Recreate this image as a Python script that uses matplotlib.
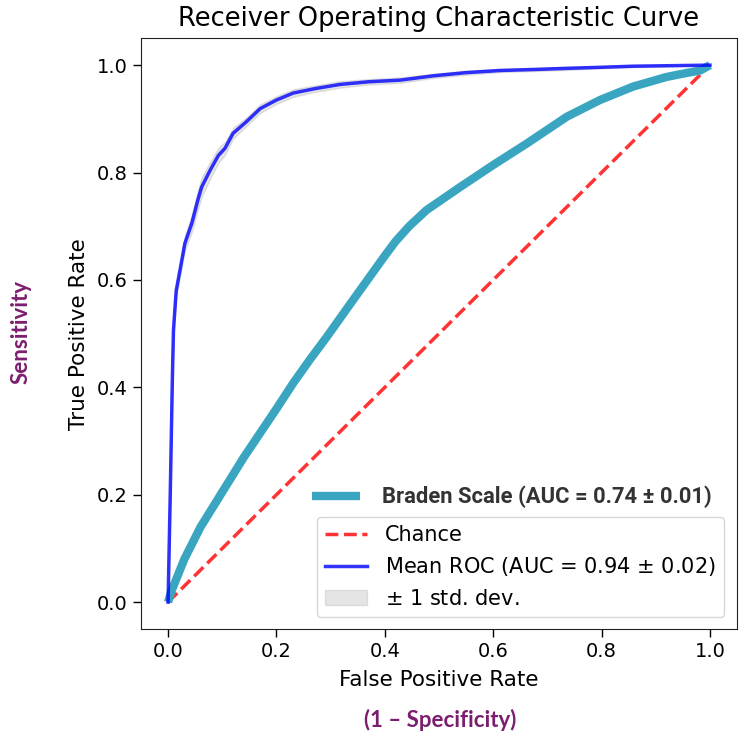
import numpy as np
import matplotlib.pyplot as plt
from matplotlib.lines import Line2D

# Mean ROC curve (cross-validated model)
mean_fpr = [0.0, 0.004, 0.008, 0.010, 0.015, 0.022, 0.031, 0.044, 0.055, 0.062, 0.078,
            0.093, 0.105, 0.120, 0.145, 0.170, 0.200, 0.231, 0.270, 0.317, 0.370,
            0.428, 0.489, 0.550, 0.613, 0.680, 0.736, 0.800, 0.858, 0.930, 1.0]
mean_tpr = [0.0, 0.20, 0.42, 0.507, 0.58, 0.618, 0.668, 0.706, 0.749, 0.773, 0.805,
            0.832, 0.845, 0.873, 0.895, 0.919, 0.935, 0.948, 0.956, 0.964, 0.969,
            0.972, 0.980, 0.986, 0.990, 0.992, 0.994, 0.996, 0.998, 0.999, 1.0]
std_tpr = [0.0, 0.01, 0.012, 0.012, 0.012, 0.012, 0.014, 0.016, 0.018, 0.018, 0.016,
           0.014, 0.012, 0.010, 0.008, 0.008, 0.007, 0.007, 0.006, 0.006, 0.005,
           0.005, 0.004, 0.004, 0.003, 0.003, 0.003, 0.002, 0.002, 0.001, 0.0]

# Braden Scale ROC curve
braden_fpr = [0.0, 0.005, 0.01, 0.03, 0.06, 0.10, 0.14, 0.17, 0.20, 0.231, 0.262,
              0.293, 0.336, 0.373, 0.400, 0.420, 0.445, 0.477, 0.539, 0.600, 0.662,
              0.736, 0.797, 0.858, 0.920, 0.960, 0.982, 1.0]
braden_tpr = [0.0, 0.017, 0.030, 0.080, 0.140, 0.205, 0.270, 0.315, 0.360, 0.408, 0.452,
              0.494, 0.555, 0.607, 0.645, 0.672, 0.700, 0.730, 0.773, 0.814, 0.854,
              0.904, 0.935, 0.960, 0.978, 0.986, 0.990, 1.0]

mean_auc, std_auc = 0.94, 0.02
braden_auc, braden_std = 0.74, 0.01

fig = plt.figure(figsize=(7.4, 7.36), dpi=100)
ax = fig.add_axes([0.1905, 0.1454, 0.8055, 0.8026])

mean_tpr_a = np.array(mean_tpr)
std_a = np.array(std_tpr)
upper = np.minimum(mean_tpr_a + std_a, 1)
lower = np.maximum(mean_tpr_a - std_a, 0)

ln_chance, = ax.plot([0, 1], [0, 1], linestyle='--', lw=2.5, color='r', alpha=.8, label='Chance')
ln_braden, = ax.plot(braden_fpr, braden_tpr, color='#3aa5c0', lw=6, solid_capstyle='butt')
band = ax.fill_between(mean_fpr, lower, upper, color='grey', alpha=.2,
                       label=r'$\pm$ 1 std. dev.')
ln_mean, = ax.plot(mean_fpr, mean_tpr, color='b', lw=2.5, alpha=.8,
                   label=r'Mean ROC (AUC = %0.2f $\pm$ %0.2f)' % (mean_auc, std_auc))

ax.set_xlim([-0.05, 1.05])
ax.set_ylim([-0.05, 1.05])
ax.set_xticks([0, 0.2, 0.4, 0.6, 0.8, 1.0])
ax.set_yticks([0, 0.2, 0.4, 0.6, 0.8, 1.0])
ax.tick_params(labelsize=14, length=6, width=1)
ax.set_xlabel('False Positive Rate', fontsize=15.5, labelpad=6)
ax.set_ylabel('True Positive Rate', fontsize=15.5, labelpad=6)
ax.set_title('Receiver Operating Characteristic Curve', fontsize=18.5, pad=9)
for s in ax.spines.values():
    s.set_color('#222222')

leg = ax.legend(handles=[ln_chance, ln_mean, band], loc='lower right', fontsize=15,
                bbox_to_anchor=(0.978, 0.02), borderaxespad=0, handlelength=2.0,
                handletextpad=0.85, borderpad=0.4, labelspacing=0.5)
ax.add_artist(leg)

# Braden Scale entry sits above the legend box
braden_handle = Line2D([], [], color='#3aa5c0', lw=6, solid_capstyle='butt')
ax.legend(handles=[braden_handle],
          labels=['Braden Scale (AUC = %0.2f ± %0.2f)' % (braden_auc, braden_std)],
          loc='center left', bbox_to_anchor=(0.287, 0.223), borderaxespad=0,
          borderpad=0, frameon=False, handlelength=2.2, handletextpad=1.0,
          prop={'family': 'Roboto', 'weight': 'bold', 'size': 15.8},
          labelcolor='#333333')

fig.text(0.028, 0.549, 'Sensitivity', rotation=90, ha='center', va='center',
         color='#7b1e6e', fontsize=16, fontweight='bold', family='Lato')
fig.text(0.595, 0.022, '(1 – Specificity)', ha='center', va='center',
         color='#7b1e6e', fontsize=16, fontweight='bold', family='Lato')

fig.savefig('out.png', dpi=100)
